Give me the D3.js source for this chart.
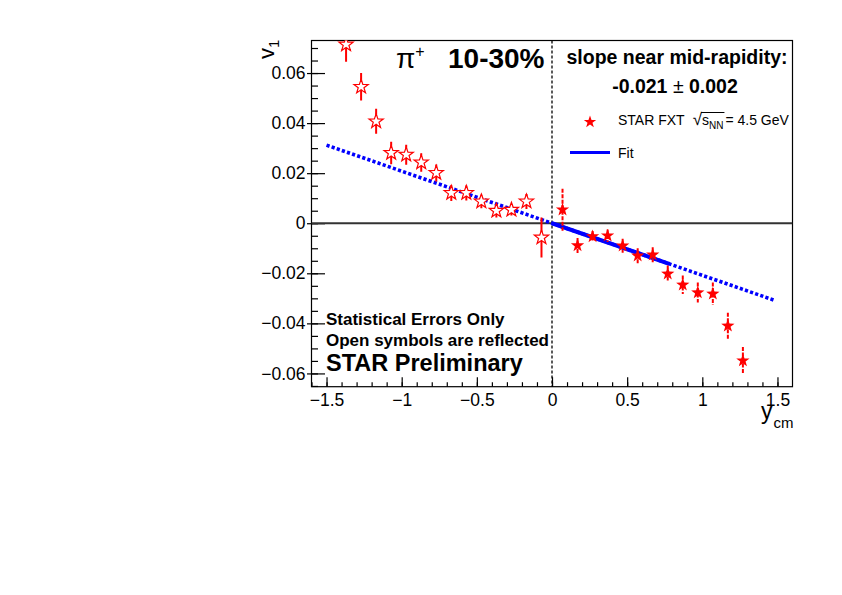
<!DOCTYPE html>
<html>
<head>
<meta charset="utf-8">
<script src="https://cdn.jsdelivr.net/npm/d3@7"></script>
<style>
  body { margin: 0; background: #fff; }
  svg { font-family: "Liberation Sans", Arial, Helvetica, sans-serif; }
</style>
</head>
<body>
<svg id="chart" width="842" height="595"></svg>
<script>
// measured points (filled stars), y_cm > 0
var yMeas  = [0.07, 0.17, 0.27, 0.37, 0.47, 0.57, 0.67, 0.77, 0.87, 0.97, 1.07, 1.17, 1.27];
var v1Meas = [0.0054, -0.0089, -0.0053, -0.0050, -0.0090, -0.0130, -0.0126, -0.0202, -0.0246, -0.0277, -0.0282, -0.0410, -0.0549];
var errMeas = [0.0084, 0.0030, 0.0022, 0.0025, 0.0028, 0.0030, 0.0030, 0.0033, 0.0037, 0.0040, 0.0045, 0.0052, 0.0055];

// reflected points (open stars), y_cm < 0
var yRefl  = [-0.07, -0.17, -0.27, -0.37, -0.47, -0.57, -0.67, -0.77, -0.87, -0.97, -1.07, -1.17, -1.27, -1.37];
var v1Refl = [-0.0057, 0.0087, 0.0054, 0.0050, 0.0087, 0.0121, 0.0121, 0.0201, 0.0243, 0.0274, 0.0281, 0.0407, 0.0545, 0.0714];
var errRefl = [0.0080, 0.0030, 0.0023, 0.0027, 0.0027, 0.0030, 0.0032, 0.0034, 0.0037, 0.0040, 0.0045, 0.0050, 0.0055, 0.0069];

// linear fit v1 = p0 + p1*y
var fitP0 = 0.0;
var fitP1 = -0.0208;
var fitRange = [0.0, 0.78];     // solid part (fit region)
var fitDrawRange = [-1.5, 1.48]; // dotted extension

var xTicks = [-1.5, -1, -0.5, 0, 0.5, 1, 1.5];
var yTicks = [-0.06, -0.04, -0.02, 0, 0.02, 0.04, 0.06];

// Set the dimensions and margins of the graph
var margin = {top: 40.5, left: 311.5};
var width = 481, height = 346.2;

var svg = d3.select("#chart");
var plot = svg.append("g")
  .attr("transform", "translate(" + margin.left + "," + margin.top + ")");

var x = d3.scaleLinear().domain([-1.6, 1.6]).range([0, width]);
var y = d3.scaleLinear().domain([-0.0653, 0.073]).range([height, 0]);

var fmt = d3.format("~g");

// clip so nothing leaves the frame
svg.append("defs").append("clipPath").attr("id", "clip")
  .append("rect").attr("width", width).attr("height", height);

// ---- axes
// x minor ticks
plot.append("g")
  .attr("transform", "translate(0," + height + ")")
  .call(d3.axisBottom(x).tickValues(d3.range(-16, 16).map(function(d){ return d / 10; }))
        .tickSize(-4.5).tickFormat(""))
  .call(function(g){ g.select(".domain").remove(); });
// x major ticks + labels
var xAxis = plot.append("g")
  .attr("transform", "translate(0," + height + ")")
  .call(d3.axisBottom(x).tickValues(xTicks).tickSize(-9.5).tickPadding(7).tickFormat(fmt));
xAxis.select(".domain").remove();
xAxis.selectAll("text").attr("font-size", "17.5px").attr("fill", "#000");

// y minor ticks
plot.append("g")
  .call(d3.axisLeft(y).tickValues(d3.range(-13, 15).map(function(d){ return d * 0.005; }))
        .tickSize(-6.5).tickFormat(""))
  .call(function(g){ g.select(".domain").remove(); });
// y major ticks inside part
plot.append("g")
  .call(d3.axisLeft(y).tickValues(yTicks).tickSize(-13.5).tickFormat(""))
  .call(function(g){ g.select(".domain").remove(); });
// y major ticks outside part + labels
var yAxis = plot.append("g")
  .call(d3.axisLeft(y).tickValues(yTicks).tickSize(4.5).tickPadding(1.5).tickFormat(fmt));
yAxis.select(".domain").remove();
yAxis.selectAll("text").attr("font-size", "17.5px").attr("fill", "#000");

plot.selectAll(".tick line").attr("stroke", "#000").attr("stroke-width", 1.2);

// frame
plot.append("rect")
  .attr("width", width).attr("height", height)
  .attr("fill", "none").attr("stroke", "#000").attr("stroke-width", 1.2);

var inner = plot.append("g").attr("clip-path", "url(#clip)");

// zero line and mid-rapidity line
inner.append("line")
  .attr("x1", 0).attr("x2", width).attr("y1", y(0)).attr("y2", y(0))
  .attr("stroke", "#333").attr("stroke-width", 2);
inner.append("line")
  .attr("x1", x(0)).attr("x2", x(0)).attr("y1", 0).attr("y2", height)
  .attr("stroke", "#000").attr("stroke-width", 1.3).attr("stroke-dasharray", "3,2");

// fit lines
function fitY(t) { return fitP0 + fitP1 * t; }
inner.append("line")
  .attr("x1", x(fitDrawRange[0])).attr("y1", y(fitY(fitDrawRange[0])))
  .attr("x2", x(fitDrawRange[1])).attr("y2", y(fitY(fitDrawRange[1])))
  .attr("stroke", "#0000ff").attr("stroke-width", 3.6)
  .attr("stroke-dasharray", "3.2,2.2");
inner.append("line")
  .attr("x1", x(fitRange[0])).attr("y1", y(fitY(fitRange[0])))
  .attr("x2", x(fitRange[1])).attr("y2", y(fitY(fitRange[1])))
  .attr("stroke", "#0000ff").attr("stroke-width", 4);

// star symbol path
function starPath(R) {
  var r = R * 0.40, p = [];
  for (var i = 0; i < 10; i++) {
    var a = -Math.PI / 2 + i * Math.PI / 5;
    var rr = (i % 2 === 0) ? R : r;
    p.push([rr * Math.cos(a), rr * Math.sin(a)]);
  }
  return "M" + p.map(function(d){ return d[0].toFixed(2) + "," + d[1].toFixed(2); }).join("L") + "Z";
}

var reflData = yRefl.map(function(d, i){ return {x: d, v: v1Refl[i], e: errRefl[i]}; });
var measData = yMeas.map(function(d, i){ return {x: d, v: v1Meas[i], e: errMeas[i]}; });

// error bars
inner.selectAll(".errRefl").data(reflData).enter().append("line")
  .attr("class", "errRefl")
  .attr("x1", function(d){ return x(d.x); }).attr("x2", function(d){ return x(d.x); })
  .attr("y1", function(d){ return y(d.v + d.e); }).attr("y2", function(d){ return y(d.v - d.e); })
  .attr("stroke", "#ff0000").attr("stroke-width", 2);
inner.selectAll(".errMeas").data(measData).enter().append("line")
  .attr("class", "errMeas")
  .attr("x1", function(d){ return x(d.x); }).attr("x2", function(d){ return x(d.x); })
  .attr("y1", function(d){ return y(d.v + d.e); }).attr("y2", function(d){ return y(d.v - d.e); })
  .attr("stroke", "#ff0000").attr("stroke-width", 2).attr("stroke-dasharray", "4,1.5");

// markers
inner.selectAll(".open").data(reflData).enter().append("path")
  .attr("class", "open")
  .attr("transform", function(d){ return "translate(" + x(d.x) + "," + y(d.v) + ")"; })
  .attr("d", starPath(7.5))
  .attr("fill", "#fff").attr("stroke", "#ff0000").attr("stroke-width", 1.2);
inner.selectAll(".filled").data(measData).enter().append("path")
  .attr("class", "filled")
  .attr("transform", function(d){ return "translate(" + x(d.x) + "," + y(d.v) + ")"; })
  .attr("d", starPath(7))
  .attr("fill", "#ff0000");

// ---- axis titles
var vTitle = svg.append("text")
  .attr("transform", "translate(274,59) rotate(-90)")
  .attr("font-size", "22px");
vTitle.append("tspan").text("v");
vTitle.append("tspan").attr("font-size", "15px").attr("dy", 5).text("1");

var yTitle = svg.append("text").attr("x", 761).attr("y", 419).attr("font-size", "23px");
yTitle.append("tspan").text("y");
yTitle.append("tspan").attr("font-size", "15px").attr("dy", 9).attr("dx", 1).text("cm");

// ---- labels
var t1 = svg.append("text").attr("x", 396).attr("y", 68).attr("font-size", "28px");
t1.append("tspan").text("π");
t1.append("tspan").attr("font-size", "16px").attr("dy", -11).text("+");
svg.append("text").attr("x", 448).attr("y", 68)
  .attr("font-size", "28px").attr("font-weight", "bold").text("10-30%");

svg.append("text").attr("x", 677).attr("y", 64).attr("text-anchor", "middle")
  .attr("font-size", "19.5px").attr("font-weight", "bold").text("slope near mid-rapidity:");
var t2 = svg.append("text").attr("x", 675).attr("y", 93).attr("text-anchor", "middle")
  .attr("font-size", "19.5px").attr("font-weight", "bold");
t2.append("tspan").text("-0.021 ");
t2.append("tspan").attr("font-weight", "normal").text("±");
t2.append("tspan").text(" 0.002");

// legend
svg.append("path").attr("transform", "translate(590,122)").attr("d", starPath(6.5)).attr("fill", "#ff0000");
var leg = svg.append("text").attr("x", 618).attr("y", 125).attr("font-size", "14px");
leg.append("tspan").text("STAR FXT");
leg.append("tspan").attr("dx", 8).attr("font-size", "17px").text("√");
leg.append("tspan").text("s");
leg.append("tspan").attr("font-size", "10px").attr("dy", 4).text("NN");
leg.append("tspan").attr("dy", -4).attr("dx", 2).text("= 4.5 GeV");
// overline of the square root
var legNode = leg.node();
var ovStart = legNode.getEndPositionOfChar(8).x - 1;
var ovEnd = legNode.getEndPositionOfChar(11).x + 1;
svg.append("line").attr("x1", ovStart).attr("x2", ovEnd).attr("y1", 112.5).attr("y2", 112.5)
  .attr("stroke", "#000").attr("stroke-width", 1);

svg.append("line").attr("x1", 570).attr("x2", 610).attr("y1", 152.5).attr("y2", 152.5)
  .attr("stroke", "#0000ff").attr("stroke-width", 3);
svg.append("text").attr("x", 618).attr("y", 158).attr("font-size", "14px").text("Fit");

// bottom-left notes
svg.append("text").attr("x", 326).attr("y", 325).attr("font-size", "17px")
  .attr("font-weight", "bold").text("Statistical Errors Only");
svg.append("text").attr("x", 326).attr("y", 346).attr("font-size", "17px")
  .attr("font-weight", "bold").text("Open symbols are reflected");
svg.append("text").attr("x", 326).attr("y", 371).attr("font-size", "23.5px")
  .attr("font-weight", "bold").text("STAR Preliminary");
</script>
</body>
</html>
